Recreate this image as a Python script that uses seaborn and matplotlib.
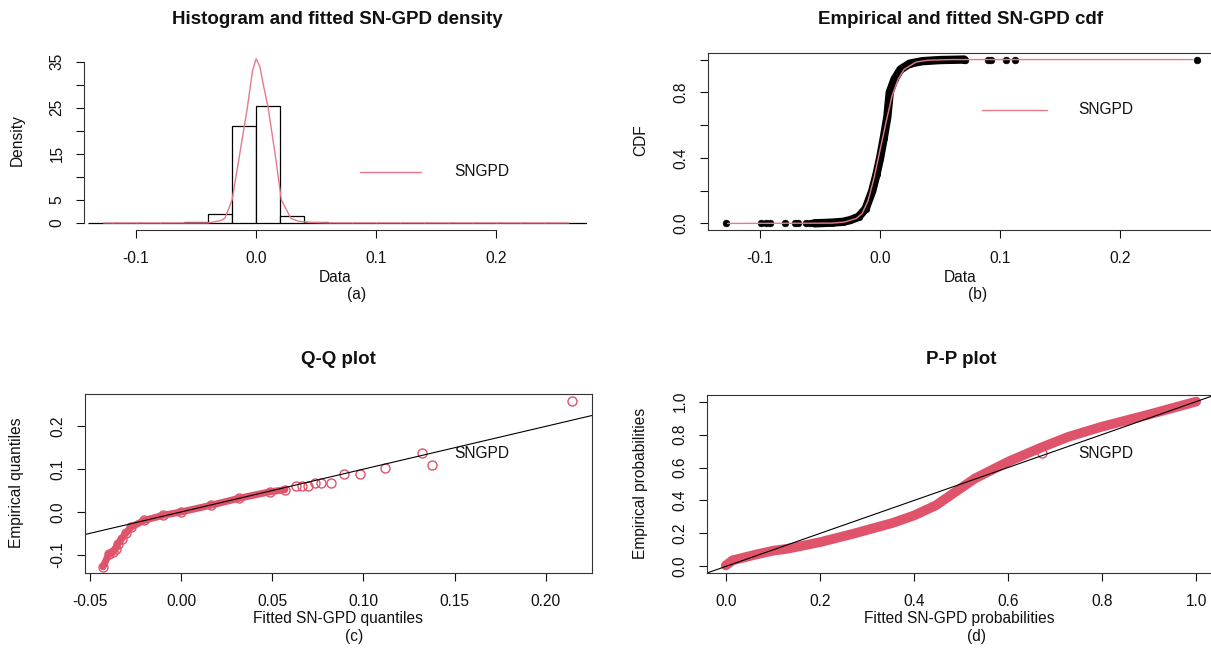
import numpy as np
import pandas as pd
import matplotlib
matplotlib.use("Agg")
import matplotlib.pyplot as plt
from matplotlib.lines import Line2D
import seaborn as sns

# ---- data ----
# (a) histogram (density per 0.02 bin) and fitted density curve
hist_edges = [-0.14, -0.12, -0.10, -0.08, -0.06, -0.04, -0.02, 0.00, 0.02, 0.04,
              0.06, 0.08, 0.10, 0.12, 0.14, 0.16, 0.18, 0.20, 0.22, 0.24, 0.26, 0.28]
hist_density = [0.05, 0.0, 0.0, 0.0, 0.2, 1.9, 21.1, 25.3, 1.6, 0.15,
                0.05, 0.05, 0.05, 0.0, 0.0, 0.0, 0.0, 0.0, 0.0, 0.0, 0.02]
dens_x = [-0.127, -0.04, -0.03, -0.026, -0.02, -0.0136, -0.0073, -0.003, 0.0, 0.003,
          0.006, 0.010, 0.0158, 0.021, 0.029, 0.035, 0.045, 0.06, 0.26]
dens_y = [0.0, 0.02, 0.5, 1.0, 5.0, 15.0, 25.0, 33.0, 35.6, 34.0,
          30.0, 25.0, 15.0, 5.0, 1.0, 0.4, 0.1, 0.02, 0.0]

# (b) empirical cdf (dense band + tail points) and fitted cdf
ecdf_x = [-0.055, -0.05, -0.04, -0.031, -0.025, -0.018, -0.012, -0.0065, -0.003, 0.0, 0.003,
          0.006, 0.008, 0.012, 0.017, 0.0245, 0.035, 0.05, 0.07]
ecdf_y = [0.001, 0.002, 0.005, 0.01, 0.02, 0.04, 0.09, 0.2, 0.3, 0.4, 0.52,
          0.65, 0.8, 0.88, 0.94, 0.975, 0.99, 0.997, 1.0]
low_tail = [-0.128, -0.0995, -0.0946, -0.092, -0.0789, -0.0708, -0.0685, -0.062, -0.0587, -0.054]
high_tail = [0.0703, 0.0898, 0.092, 0.1045, 0.112, 0.2635]
fit_cdf_x = [-0.127, -0.04, -0.03, -0.02, -0.015, -0.01, -0.005, 0.0, 0.005, 0.01,
             0.015, 0.02, 0.03, 0.04, 0.06, 0.26]
fit_cdf_y = [0.0, 0.002, 0.008, 0.03, 0.06, 0.14, 0.28, 0.45, 0.62, 0.78,
             0.88, 0.94, 0.985, 0.996, 1.0, 1.0]

# (c) Q-Q plot: fitted vs empirical quantiles
qq_fit = [-0.0427, -0.0396, -0.0374, -0.0358, -0.0345, -0.0324, -0.0303, -0.0273, -0.02, -0.0097,
          0.0, 0.0167, 0.0318, 0.0486, 0.057, 0.063, 0.0663, 0.0695, 0.0733, 0.077,
          0.0823, 0.0891, 0.0981, 0.1118, 0.132, 0.1378, 0.2145]
qq_emp = [-0.128, -0.099, -0.0936, -0.0857, -0.074, -0.062, -0.05, -0.035, -0.0195, -0.0078,
          0.0, 0.016, 0.032, 0.047, 0.052, 0.06, 0.0615, 0.0615, 0.067, 0.067,
          0.067, 0.088, 0.088, 0.103, 0.138, 0.1096, 0.26]
qq_band_n = 15  # first points form the dense band

# (d) P-P plot
pp_fit = [0.0, 0.0145, 0.064, 0.10, 0.131, 0.2015, 0.272, 0.355, 0.401, 0.447,
          0.488, 0.53, 0.6, 0.671, 0.729, 0.8, 0.896, 1.0]
pp_emp = [0.006, 0.037, 0.072, 0.095, 0.107, 0.148, 0.199, 0.264, 0.31, 0.371,
          0.452, 0.534, 0.635, 0.722, 0.787, 0.848, 0.919, 1.0]
pp_extra = ([0.672], [0.686])

red = "#DF536B"
pink = "#E57A8B"

sns.set_style("ticks")
plt.rcParams["font.family"] = ["Liberation Sans", "DejaVu Sans"]
plt.rcParams["axes.linewidth"] = 0.8

W, H = 1211, 649
fig = plt.figure(figsize=(W / 100, H / 100), dpi=100)


def add_ax(l, t, r, b):
    return fig.add_axes([l / W, 1 - b / H, (r - l) / W, (b - t) / H])


def ftext(x, y, s, **kw):
    fig.text(x / W, 1 - y / H, s, ha="center", va="center", color="#111", **kw)


def style(ax, xt, xl, yt, yl):
    ax.set_xticks(xt)
    ax.set_xticklabels(xl)
    ax.set_yticks(yt)
    ax.set_yticklabels(yl, rotation=90, va="center")
    ax.tick_params(axis="both", length=6, width=0.8, labelsize=11.2, colors="#111")
    ax.tick_params(axis="x", pad=9)
    ax.tick_params(axis="y", pad=8)
    ax.set_xlabel("")
    ax.set_ylabel("")
    for s in ax.spines.values():
        s.set_color("#333")


tsize = 13.5
lsize = 11.2

# ---------------- (a) histogram ----------------
ax = add_ax(84, 50, 587, 230)
mids = [(hist_edges[i] + hist_edges[i + 1]) / 2 for i in range(len(hist_density))]
sns.histplot(x=mids, weights=hist_density, bins=hist_edges, stat="count",
             fill=True, color="white", edgecolor="black", linewidth=0.9, alpha=1, ax=ax)
sns.lineplot(x=dens_x, y=dens_y, color=pink, lw=1.0, sort=False, ax=ax)
ax.set_xlim(-0.1433, 0.2755)
ax.set_ylim(-1.52, 37.5)
style(ax, [-0.1, 0.0, 0.1, 0.2], ["-0.1", "0.0", "0.1", "0.2"],
      [0, 5, 10, 15, 20, 25, 30, 35], ["0", "5", "", "15", "", "25", "", "35"])
ax.spines["top"].set_visible(False)
ax.spines["right"].set_visible(False)
ax.spines["left"].set_bounds(0, 35)
ax.spines["bottom"].set_bounds(-0.1, 0.2)
fig.add_artist(Line2D([360 / W, 421 / W], [1 - 172 / H, 1 - 172 / H], color=pink, lw=1.0))
fig.text(454 / W, 1 - 172 / H, "SNGPD", ha="left", va="center", fontsize=lsize, color="#111")
ftext(337, 19, "Histogram and fitted SN-GPD density", fontsize=tsize, fontweight="bold")
ftext(335, 277, "Data", fontsize=lsize)
ftext(357, 295, "(a)", fontsize=lsize)
ftext(17, 140, "Density", fontsize=lsize, rotation=90)

# ---------------- (b) cdf ----------------
ax = add_ax(708, 53, 1212, 230)
sns.lineplot(x=ecdf_x, y=ecdf_y, color="black", lw=6.0, sort=False, ax=ax)
sns.scatterplot(x=ecdf_x, y=ecdf_y, color="black", s=22, edgecolor="black", ax=ax)
sns.scatterplot(x=low_tail, y=[0.0] * len(low_tail), color="black", s=24, edgecolor="black", ax=ax)
sns.scatterplot(x=high_tail, y=[1.0] * len(high_tail), color="black", s=24, edgecolor="black", ax=ax)
sns.lineplot(x=fit_cdf_x, y=fit_cdf_y, color=pink, lw=1.0, sort=False, ax=ax)
ax.set_xlim(-0.1433, 0.2763)
ax.set_ylim(-0.04, 1.04)
style(ax, [-0.1, 0.0, 0.1, 0.2], ["-0.1", "0.0", "0.1", "0.2"],
      [0, 0.2, 0.4, 0.6, 0.8, 1.0], ["0.0", "", "0.4", "", "0.8", ""])
fig.add_artist(Line2D([982 / W, 1047 / W], [1 - 110 / H, 1 - 110 / H], color=pink, lw=1.0))
fig.text(1078 / W, 1 - 110 / H, "SNGPD", ha="left", va="center", fontsize=lsize, color="#111")
ftext(961, 19, "Empirical and fitted SN-GPD cdf", fontsize=tsize, fontweight="bold")
ftext(960, 277, "Data", fontsize=lsize)
ftext(978, 295, "(b)", fontsize=lsize)
ftext(641, 140, "CDF", fontsize=lsize, rotation=90)

# ---------------- (c) Q-Q ----------------
ax = add_ax(85, 394, 592, 573)
sns.lineplot(x=qq_fit[:qq_band_n], y=qq_emp[:qq_band_n], color=red, lw=5.0, sort=False, ax=ax)
ax.plot(qq_fit, qq_emp, "o", mfc="none", mec=red, ms=6.5, mew=1.0)
ax.axline((0, 0), slope=1, color="black", lw=0.8)
ax.set_xlim(-0.0526, 0.2253)
ax.set_ylim(-0.1425, 0.2755)
style(ax, [-0.05, 0.0, 0.05, 0.10, 0.15, 0.20], ["-0.05", "0.00", "0.05", "0.10", "0.15", "0.20"],
      [-0.1, 0.0, 0.1, 0.2], ["-0.1", "0.0", "0.1", "0.2"])
fig.text(454 / W, 1 - 454 / H, "SNGPD", ha="left", va="center", fontsize=lsize, color="#111")
ftext(338, 359, "Q-Q plot", fontsize=tsize, fontweight="bold")
ftext(338, 618, "Fitted SN-GPD quantiles", fontsize=lsize)
ftext(354, 636, "(c)", fontsize=lsize)
ftext(17, 483, "Empirical quantiles", fontsize=lsize, rotation=90)

# ---------------- (d) P-P ----------------
ax = add_ax(707, 395, 1215, 573)
sns.lineplot(x=pp_fit, y=pp_emp, color=red, lw=7.0, sort=False, ax=ax)
ax.plot(pp_extra[0], pp_extra[1], "o", mfc="none", mec=red, ms=6.5, mew=1.0)
ax.axline((0, 0), slope=1, color="black", lw=0.8)
ax.set_xlim(-0.04, 1.04)
ax.set_ylim(-0.04, 1.04)
pt = [0.0, 0.2, 0.4, 0.6, 0.8, 1.0]
pl = ["0.0", "0.2", "0.4", "0.6", "0.8", "1.0"]
style(ax, pt, pl, pt, pl)
fig.text(1078 / W, 1 - 454 / H, "SNGPD", ha="left", va="center", fontsize=lsize, color="#111")
ftext(961, 359, "P-P plot", fontsize=tsize, fontweight="bold")
ftext(959, 618, "Fitted SN-GPD probabilities", fontsize=lsize)
ftext(977, 636, "(d)", fontsize=lsize)
ftext(641, 483, "Empirical probabilities", fontsize=lsize, rotation=90)

fig.savefig("out.png", dpi=100, facecolor="white")
